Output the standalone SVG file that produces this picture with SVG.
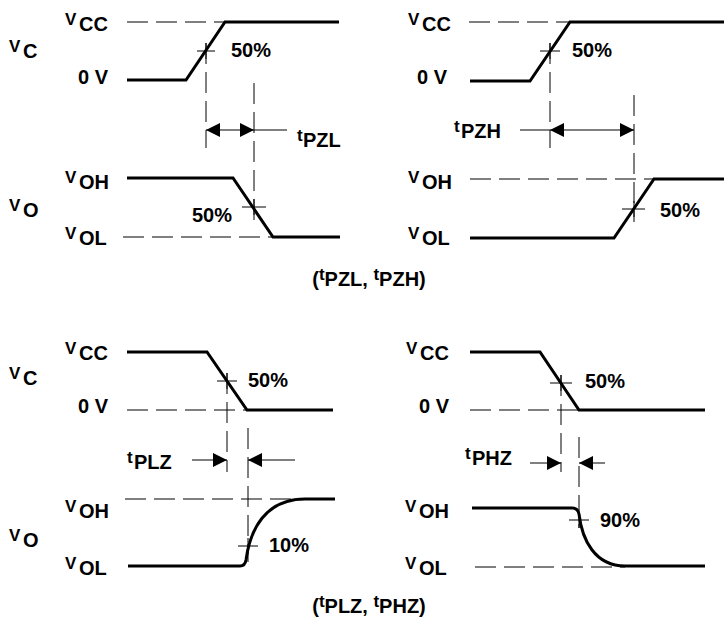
<svg xmlns="http://www.w3.org/2000/svg" xmlns:xlink="http://www.w3.org/1999/xlink" width="724" height="620" viewBox="0 0 724 620">
<style>
text{font-family:"Liberation Sans",Arial,sans-serif;font-weight:bold;font-size:20px;fill:#000}
.p{font-size:17px}
.sig{fill:none;stroke:#000;stroke-width:3;stroke-linejoin:miter}
.ref{fill:none;stroke:#000;stroke-width:1;stroke-dasharray:21 8}
.vd{fill:none;stroke:#000;stroke-width:1;stroke-dasharray:21 8}
.tk{stroke:#000;stroke-width:1}
.ar{stroke:#000;stroke-width:1}
</style>
<defs>
<path id="ah" d="M0,0 L-14,-7 L-14,7 Z" fill="#000"/>
</defs>
<rect width="724" height="620" fill="#fff"/>

<g id="panel-tl-vc">
<text x="9" y="58"><tspan class="p" dy="-6">V</tspan><tspan x="23" dy="6">C</tspan></text>
<text x="65" y="31"><tspan class="p" dy="-6">V</tspan><tspan x="79" dy="6">CC</tspan></text>
<text x="78" y="84">0 V</text>
<text x="231" y="57">50%</text>
<line class="ref" x1="127" y1="22" x2="225" y2="22"/>
<polyline class="sig" points="127,80 186,80 225,22 339,22"/>
<line class="tk" x1="197" y1="51" x2="215" y2="51"/>
</g>

<g id="panel-tl-vo">
<text x="9" y="217"><tspan class="p" dy="-6">V</tspan><tspan x="23" dy="6">O</tspan></text>
<text x="65" y="189"><tspan class="p" dy="-6">V</tspan><tspan x="79" dy="6">OH</tspan></text>
<text x="65" y="245"><tspan class="p" dy="-6">V</tspan><tspan x="79" dy="6">OL</tspan></text>
<text x="192" y="222">50%</text>
<line class="ref" x1="123" y1="237" x2="273" y2="237"/>
<polyline class="sig" points="127,178 233,178 273,237 340,237"/>
<line class="tk" x1="242" y1="207" x2="266" y2="207"/>
</g>

<g id="panel-tr-vc">
<text x="408" y="31"><tspan class="p" dy="-6">V</tspan><tspan x="422" dy="6">CC</tspan></text>
<text x="417" y="84">0 V</text>
<text x="572" y="57">50%</text>
<line class="ref" x1="469" y1="22" x2="570" y2="22"/>
<polyline class="sig" points="470,81 530,81 570,22 724,22"/>
<line class="tk" x1="540" y1="51" x2="560" y2="51"/>
</g>

<g id="panel-tr-vo">
<text x="408" y="189"><tspan class="p" dy="-6">V</tspan><tspan x="422" dy="6">OH</tspan></text>
<text x="408" y="245"><tspan class="p" dy="-6">V</tspan><tspan x="422" dy="6">OL</tspan></text>
<text x="660" y="217">50%</text>
<line class="ref" x1="470" y1="179" x2="654" y2="179"/>
<polyline class="sig" points="470,238 614,238 654,179 724,179"/>
<line class="tk" x1="622" y1="209" x2="645" y2="209"/>
</g>

<g id="panel-bl-vc">
<text x="9" y="385"><tspan class="p" dy="-6">V</tspan><tspan x="23" dy="6">C</tspan></text>
<text x="65" y="360"><tspan class="p" dy="-6">V</tspan><tspan x="79" dy="6">CC</tspan></text>
<text x="78" y="413">0 V</text>
<text x="248" y="387">50%</text>
<line class="ref" x1="127" y1="410" x2="247" y2="410"/>
<polyline class="sig" points="127,352 207,352 247,410 333,410"/>
<line class="tk" x1="217" y1="381" x2="237" y2="381"/>
</g>

<g id="panel-bl-vo">
<text x="9" y="547"><tspan class="p" dy="-6">V</tspan><tspan x="23" dy="6">O</tspan></text>
<text x="65" y="518"><tspan class="p" dy="-6">V</tspan><tspan x="79" dy="6">OH</tspan></text>
<text x="65" y="575"><tspan class="p" dy="-6">V</tspan><tspan x="79" dy="6">OL</tspan></text>
<text x="269" y="552">10%</text>
<line class="ref" x1="125" y1="499" x2="300" y2="499"/>
<path class="sig" d="M128,566 L240,566 Q245,566 246,560 C250,530 265,499 305,499 L335,499"/>
<line class="tk" x1="238" y1="546" x2="258" y2="546"/>
</g>

<g id="panel-br-vc">
<text x="406" y="360"><tspan class="p" dy="-6">V</tspan><tspan x="420" dy="6">CC</tspan></text>
<text x="419" y="413">0 V</text>
<text x="585" y="388">50%</text>
<line class="ref" x1="470" y1="410" x2="579" y2="410"/>
<polyline class="sig" points="470,352 540,352 579,410 705,410"/>
<line class="tk" x1="550" y1="383" x2="572" y2="383"/>
</g>

<g id="panel-br-vo">
<text x="405" y="518"><tspan class="p" dy="-6">V</tspan><tspan x="419" dy="6">OH</tspan></text>
<text x="405" y="575"><tspan class="p" dy="-6">V</tspan><tspan x="419" dy="6">OL</tspan></text>
<text x="600" y="527">90%</text>
<line class="ref" x1="475" y1="567" x2="625" y2="567"/>
<path class="sig" d="M472,508 L572,508 Q578,508 579,514 C582,540 595,566 625,566 L705,566"/>
<line class="tk" x1="569" y1="520" x2="589" y2="520"/>
</g>

<g id="labels">
<text x="297" y="147"><tspan class="p" dy="-6">t</tspan><tspan x="303" dy="6">PZL</tspan></text>
<text x="454" y="138"><tspan class="p" dy="-6">t</tspan><tspan x="461" dy="6">PZH</tspan></text>
<text x="127" y="469"><tspan class="p" dy="-6">t</tspan><tspan x="134" dy="6">PLZ</tspan></text>
<text x="465" y="465"><tspan class="p" dy="-6">t</tspan><tspan x="472" dy="6">PHZ</tspan></text>
<text x="369" y="286" text-anchor="middle">(<tspan class="p" dy="-6">t</tspan><tspan dy="6">PZL, </tspan><tspan class="p" dy="-6">t</tspan><tspan dy="6">PZH)</tspan></text>
<text x="369" y="613" text-anchor="middle">(<tspan class="p" dy="-6">t</tspan><tspan dy="6">PLZ, </tspan><tspan class="p" dy="-6">t</tspan><tspan dy="6">PHZ)</tspan></text>
</g>

<g id="connectors">
<line class="vd" x1="206" y1="43" x2="206" y2="148"/>
<line class="tk" x1="206" y1="43" x2="206" y2="59"/>
<line class="vd" x1="254" y1="83" x2="254" y2="220"/>
<line class="tk" x1="254" y1="199" x2="254" y2="215"/>
<line class="vd" x1="550" y1="43" x2="550" y2="148"/>
<line class="tk" x1="550" y1="43" x2="550" y2="59"/>
<line class="vd" x1="634" y1="95" x2="634" y2="222"/>
<line class="tk" x1="634" y1="201" x2="634" y2="217"/>
<line class="vd" x1="227" y1="373" x2="227" y2="472"/>
<line class="tk" x1="227" y1="373" x2="227" y2="389"/>
<line class="vd" x1="248" y1="428" x2="248" y2="562"/>
<line class="tk" x1="248" y1="538" x2="248" y2="554"/>
<line class="vd" x1="561" y1="375" x2="561" y2="472"/>
<line class="tk" x1="561" y1="375" x2="561" y2="391"/>
<line class="vd" x1="579" y1="437" x2="579" y2="528"/>
<line class="tk" x1="579" y1="512" x2="579" y2="528"/>

<line class="ar" x1="206" y1="130" x2="287" y2="130"/>
<use xlink:href="#ah" transform="translate(206,130) rotate(180)"/>
<use xlink:href="#ah" transform="translate(254,130)"/>

<line class="ar" x1="520" y1="130" x2="634" y2="130"/>
<use xlink:href="#ah" transform="translate(550,130) rotate(180)"/>
<use xlink:href="#ah" transform="translate(634,130)"/>

<line class="ar" x1="192" y1="460" x2="227" y2="460"/>
<use xlink:href="#ah" transform="translate(227,460)"/>
<line class="ar" x1="248" y1="460" x2="295" y2="460"/>
<use xlink:href="#ah" transform="translate(248,460) rotate(180)"/>

<line class="ar" x1="530" y1="463" x2="561" y2="463"/>
<use xlink:href="#ah" transform="translate(561,463)"/>
<line class="ar" x1="579" y1="463" x2="605" y2="463"/>
<use xlink:href="#ah" transform="translate(579,463) rotate(180)"/>
</g>
</svg>
